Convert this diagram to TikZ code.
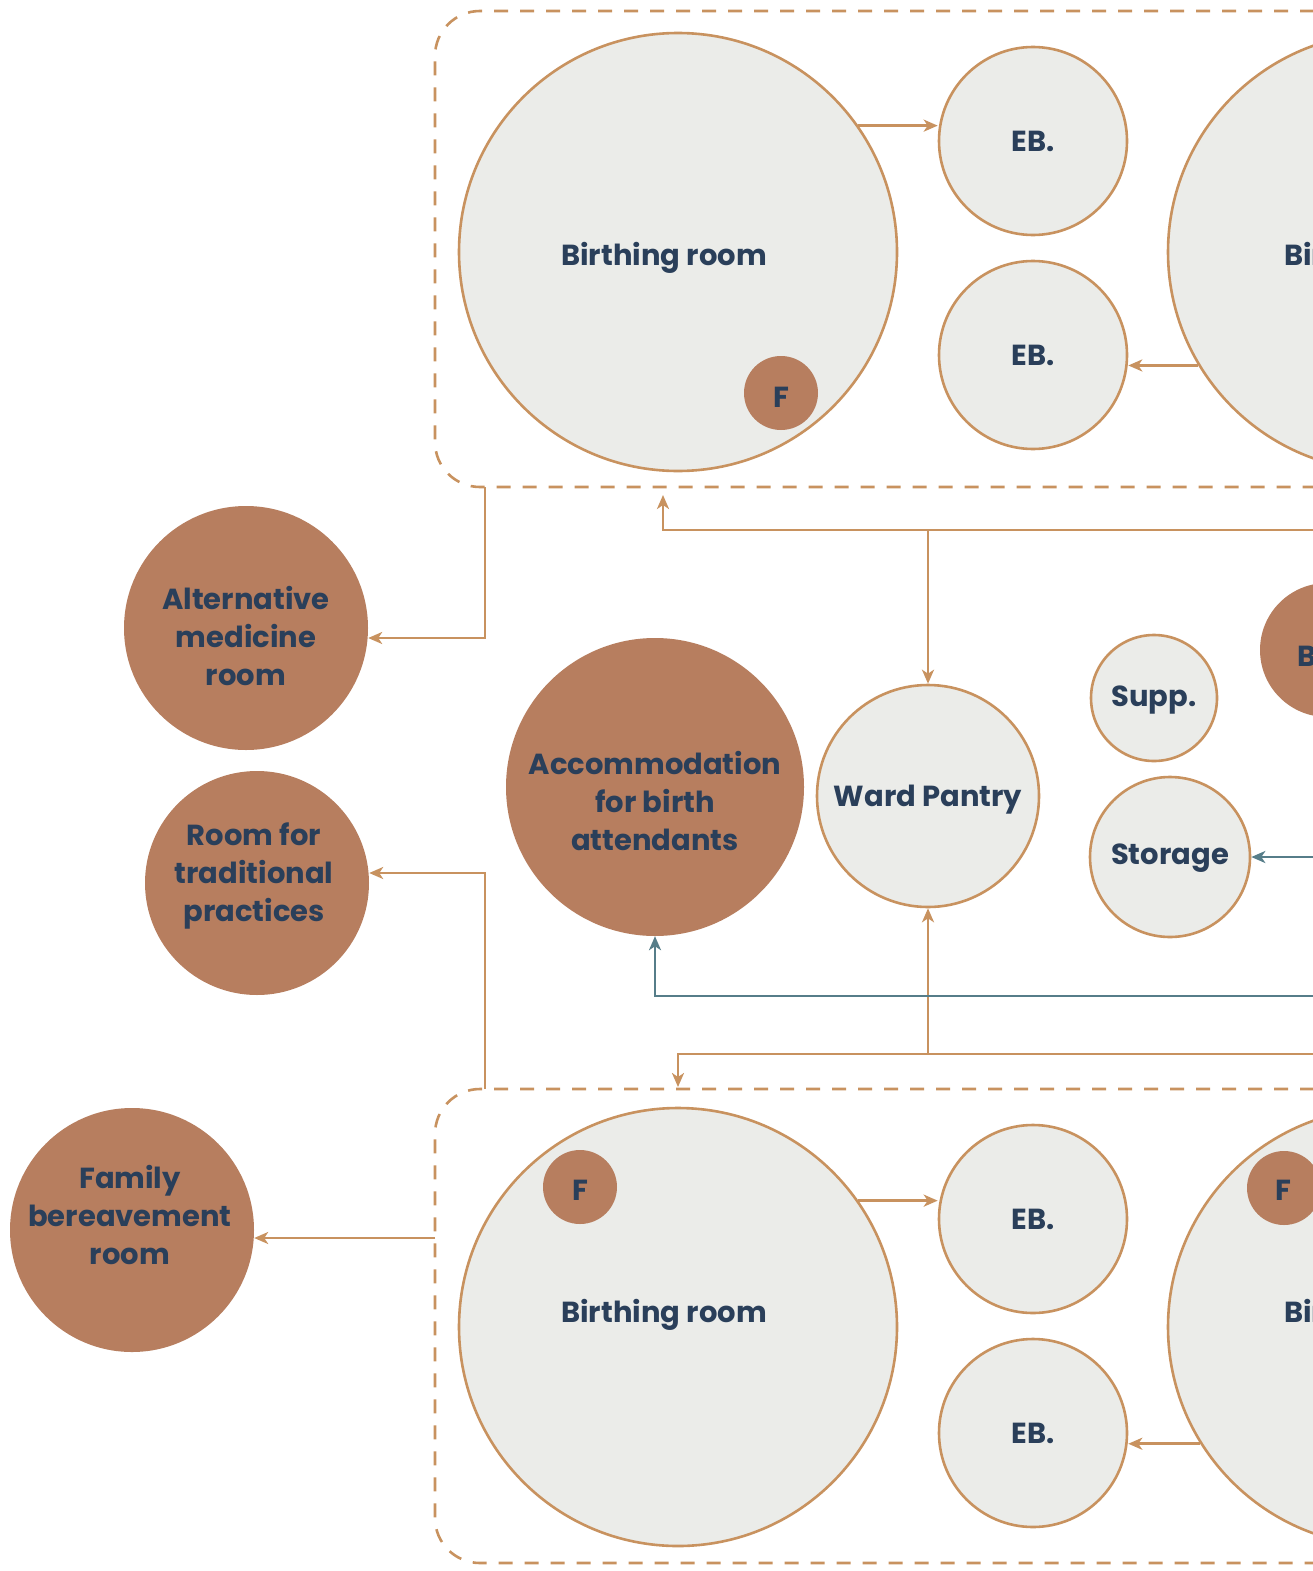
\documentclass[tikz,border=0pt]{standalone}
\usepackage{fontspec}
\setmainfont{Poppins}
\usetikzlibrary{arrows.meta}
\definecolor{edgetan}{HTML}{C8925F}
\definecolor{clay}{HTML}{B77E5F}
\definecolor{paper}{HTML}{EBECE9}
\definecolor{ink}{HTML}{2A3F5A}
\definecolor{slate}{HTML}{567D89}
\tikzset{
  room/.style={circle, draw=edgetan, line width=2.6pt, fill=paper, inner sep=0pt, minimum size=#1},
  space/.style={circle, fill=clay, inner sep=0pt, minimum size=#1},
  lbl/.style={text=ink, font=\bfseries\fontsize{29}{38}\selectfont, align=center, inner sep=0pt},
  tip/.style={-{Stealth[length=14pt,width=12pt,inset=4pt]}},
  link/.style={draw=edgetan, line width=2.6pt, tip},
  feed/.style={draw=slate, line width=2.6pt, tip},
  zone/.style={draw=edgetan, line width=2.6pt, dash pattern=on 14pt off 12pt, rounded corners=45pt},
}
\begin{document}
\begin{tikzpicture}[x=1pt,y=-1pt]
\useasboundingbox (0,0) rectangle (1313,1571);
\clip (0,0) rectangle (1313,1571);
\fill[white] (0,0) rectangle (1313,1571);

% care zones
\draw[zone] (1340,11) -- (435,11) -- (435,487) -- (1340,487);
\draw[zone] (1340,1089) -- (435,1089) -- (435,1563) -- (1340,1563);
\coordinate (zt) at (485,487);
\coordinate (zb) at (485,1089);
\coordinate (zl) at (435,1238);

% upper zone
\node[room=438] (br1) at (678,252) {};
\node[room=438] (br2) at (1387,252) {};
\node[room=188] (eb1) at (1033,141) {};
\node[room=188] (eb2) at (1033,355) {};
\node[space=74] (f1) at (781,393) {};
\node[lbl, anchor=base] (t1) at (664,265) {Birthing room};
\node[lbl, anchor=base west] (t2) at (1284,265) {Birthing room};
\node[lbl, anchor=base] (tf1) at (781,407) {F};
\node[lbl, anchor=base] (te1) at (1033,151) {EB.};
\node[lbl, anchor=base] (te2) at (1033,365) {EB.};

% lower zone
\node[room=438] (br3) at (678,1327) {};
\node[room=438] (br4) at (1387,1327) {};
\node[room=188] (eb3) at (1033,1219) {};
\node[room=188] (eb4) at (1033,1433) {};
\node[space=74] (f3) at (580,1187) {};
\node[space=74] (f4) at (1284,1188) {};
\node[lbl, anchor=base] (t3) at (664,1322) {Birthing room};
\node[lbl, anchor=base west] (t4) at (1284,1322) {Birthing room};
\node[lbl, anchor=base] (tf3) at (580,1200) {F};
\node[lbl, anchor=base] (tf4) at (1283,1200) {F};
\node[lbl, anchor=base] (te3) at (1033,1229) {EB.};
\node[lbl, anchor=base] (te4) at (1033,1443) {EB.};

% central and side rooms
\node[space=244] (alt) at (246,628) {};
\node[lbl] (talt) at (246,636) {Alternative\\medicine\\room};
\node[space=224] (trad) at (257,883) {};
\node[lbl] (ttrad) at (254,876) {Room for\\traditional\\practices};
\node[space=244] (fam) at (132,1230) {};
\node[lbl] (tfam) at (130,1215) {Family\\bereavement\\room};
\node[space=298] (acc) at (655,787) {};
\node[lbl] (tacc) at (655,801) {Accommodation\\for birth\\attendants};
\node[room=222] (wp) at (928,796) {};
\node[lbl, anchor=base] (twp) at (928,806) {Ward Pantry};
\node[room=126] (sup) at (1154,698) {};
\node[lbl, anchor=base] (tsup) at (1154,706) {Supp.};
\node[room=160] (sto) at (1170,857) {};
\node[lbl, anchor=base] (tsto) at (1170,864) {Storage};
\node[space=134] (bx) at (1327,650) {};
\node[lbl, anchor=base west] (tbx) at (1297,666) {B};

% connectors inside the zones
\draw[link] (br1.35) -- (br1.35 -| eb1.west);
\draw[link] (br2.211) -- (br2.211 -| eb2.east);
\draw[link] (br3.35.5) -- (br3.35.5 -| eb3.west);
\draw[link] (br4.212) -- (br4.212 -| eb4.east);

% service corridors
\coordinate (jt) at (928,530);
\coordinate (jb) at (928,1054);
\draw[link] (1340,530) -- (663,530) -- (663,495);
\draw[link] (jt) -- (wp.north);
\draw[link] (jb) -- (wp.south);
\draw[link] (1340,1054) -- (678,1054) -- (678,1087);
\draw[link] (zt) |- (alt.east |- 0,638);
\draw[link] (zb) |- (trad.east |- 0,873);
\draw[link] (zl) -- (fam.east |- zl);
\draw[feed] (1340,996) -| (acc.south);
\draw[feed] (1340,857) -- (sto.east);
\end{tikzpicture}
\end{document}
